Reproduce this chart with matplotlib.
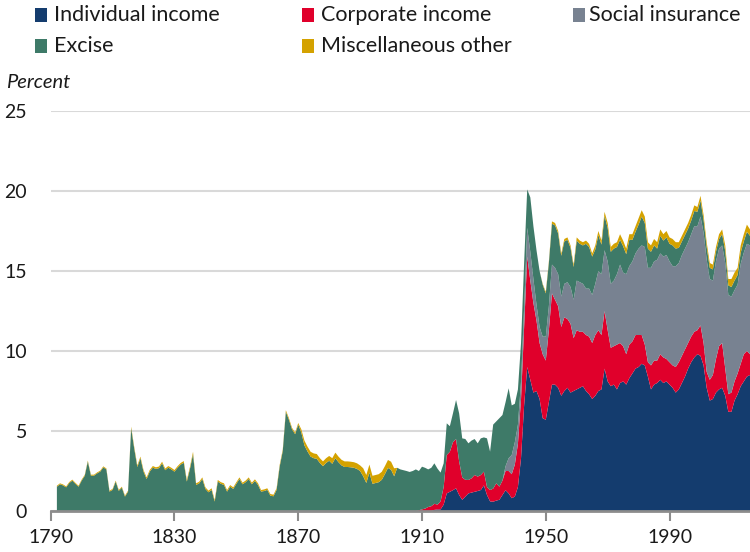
import matplotlib
matplotlib.use("Agg")
import matplotlib.pyplot as plt
from matplotlib.patches import Rectangle
import numpy as np

plt.rcParams['font.family'] = ['Lato', 'DejaVu Sans']

# federal revenue by source, percent of GDP
years = np.arange(1792, 2017)

excise = [
    1.52, 1.67, 1.6, 1.48, 1.75, 1.9, 1.7, 1.52, 1.9, 2.2,
    3.09, 2.21, 2.21, 2.35, 2.46, 2.73, 2.6, 1.21, 1.32, 1.84,
    1.26, 1.46, 0.9, 1.21, 5.17, 3.9, 2.75, 3.3, 2.46, 2.0,
    2.46, 2.71, 2.63, 2.68, 2.98, 2.55, 2.71, 2.6, 2.46, 2.7,
    2.9, 3.02, 1.84, 2.63, 3.55, 1.63, 1.73, 2.0, 1.38, 1.17,
    1.32, 0.59, 1.84, 1.7, 1.63, 1.21, 1.52, 1.38, 1.7, 2.0,
    1.67, 1.8, 2.0, 1.67, 1.88, 1.63, 1.21, 1.25, 1.32, 0.96,
    0.92, 1.32, 2.78, 3.75, 6.2, 5.7, 5.1, 4.8, 5.4, 4.9,
    4.1, 3.72, 3.4, 3.3, 3.26, 3.0, 2.8, 3.0, 3.14, 2.95,
    3.3, 3.05, 2.85, 2.75, 2.75, 2.73, 2.7, 2.63, 2.5, 2.17,
    1.75, 2.4, 1.7, 1.75, 1.8, 1.95, 2.3, 2.69, 2.58, 2.17,
    2.7, 2.6, 2.55, 2.5, 2.44, 2.5, 2.6, 2.45, 2.67, 2.55,
    2.35, 2.4, 2.53, 2.25, 1.8, 1.48, 1.98, 1.6, 1.8, 2.44,
    3.0, 2.44, 2.55, 2.29, 2.36, 2.25, 2.08, 2.29, 2.14, 3.04,
    2.4, 4.0, 3.87, 4.28, 4.1, 4.0, 4.37, 3.1, 2.4, 2.2,
    2.4, 2.8, 2.4, 3.4, 3.3, 3.4, 3.5, 3.25, 2.7, 2.7,
    2.55, 2.65, 2.55, 2.55, 2.65, 2.65, 2.45, 2.05, 2.5, 2.4,
    2.4, 2.8, 2.6, 2.4, 2.15, 2.25, 1.85, 2.15, 2.1, 2.0,
    2.0, 1.7, 1.55, 1.65, 1.25, 1.65, 1.35, 1.35, 1.5, 1.8,
    1.5, 1.2, 1.0, 1.0, 0.7, 1.1, 1.0, 1.1, 1.1, 1.3,
    1.1, 0.95, 0.85, 0.85, 0.85, 0.85, 0.95, 0.9, 1.0, 0.8,
    0.8, 0.7, 0.7, 0.6, 0.6, 0.7, 0.75, 0.6, 0.6, 0.6,
    0.6, 0.7, 0.7, 0.75, 0.6,
]

misc = [
    0.06, 0.06, 0.06, 0.06, 0.06, 0.06, 0.06, 0.06, 0.06, 0.06,
    0.06, 0.06, 0.06, 0.06, 0.06, 0.06, 0.06, 0.06, 0.06, 0.06,
    0.06, 0.06, 0.06, 0.06, 0.1, 0.1, 0.1, 0.1, 0.1, 0.1,
    0.1, 0.1, 0.1, 0.1, 0.1, 0.1, 0.1, 0.1, 0.1, 0.1,
    0.1, 0.1, 0.1, 0.12, 0.15, 0.1, 0.1, 0.1, 0.1, 0.1,
    0.1, 0.1, 0.1, 0.1, 0.1, 0.1, 0.1, 0.1, 0.1, 0.1,
    0.1, 0.1, 0.1, 0.1, 0.1, 0.1, 0.1, 0.1, 0.1, 0.1,
    0.1, 0.1, 0.1, 0.1, 0.1, 0.1, 0.1, 0.1, 0.1, 0.2,
    0.3, 0.3, 0.3, 0.3, 0.3, 0.3, 0.3, 0.3, 0.3, 0.35,
    0.35, 0.35, 0.35, 0.35, 0.35, 0.35, 0.35, 0.35, 0.35, 0.5,
    0.5, 0.5, 0.5, 0.5, 0.5, 0.5, 0.5, 0.5, 0.5, 0.5,
    0, 0, 0, 0, 0, 0, 0, 0, 0, 0,
    0, 0, 0, 0, 0, 0, 0, 0, 0, 0,
    0, 0, 0, 0, 0, 0, 0, 0, 0, 0,
    0, 0, 0, 0, 0, 0, 0, 0, 0, 0,
    0, 0, 0, 0, 0, 0, 0, 0.05, 0.1, 0.1,
    0.15, 0.15, 0.15, 0.15, 0.15, 0.15, 0.15, 0.15, 0.2, 0.2,
    0.2, 0.2, 0.2, 0.2, 0.25, 0.25, 0.25, 0.25, 0.3, 0.3,
    0.3, 0.3, 0.35, 0.35, 0.35, 0.35, 0.35, 0.35, 0.4, 0.4,
    0.4, 0.4, 0.4, 0.4, 0.4, 0.4, 0.4, 0.4, 0.4, 0.4,
    0.4, 0.35, 0.35, 0.35, 0.35, 0.35, 0.35, 0.3, 0.3, 0.3,
    0.3, 0.3, 0.3, 0.3, 0.3, 0.3, 0.35, 0.4, 0.5, 0.5,
    0.45, 0.45, 0.45, 0.45, 0.4,
]

individual_start = 1913
individual = [
    0.0, 0.07, 0.1, 0.1, 0.4, 1.1, 1.2, 1.3, 1.42, 1.0,
    0.7, 0.9, 1.1, 1.15, 1.2, 1.25, 1.31, 1.6, 1.0, 0.6,
    0.58, 0.65, 0.7, 1.0, 1.3, 1.1, 0.8, 0.9, 1.5, 3.3,
    6.6, 9.0, 8.2, 7.4, 7.5, 7.0, 5.8, 5.7, 6.8, 7.9,
    7.9, 7.7, 7.2, 7.5, 7.7, 7.4, 7.5, 7.6, 7.7, 7.8,
    7.5, 7.3, 7.0, 7.2, 7.5, 7.6, 8.9, 8.1, 7.8, 7.9,
    7.6, 8.0, 8.1, 7.9, 8.3, 8.6, 8.9, 9.0, 9.2, 9.1,
    8.4, 7.6, 7.9, 8.0, 8.2, 8.0, 8.1, 7.9, 7.7, 7.4,
    7.6, 8.0, 8.4, 8.9, 9.3, 9.6, 9.8, 9.7, 9.1, 7.7,
    6.9, 7.0, 7.4, 7.6, 7.7, 7.2, 6.2, 6.2, 6.9, 7.3,
    7.8, 8.1, 8.4, 8.5,
]

corporate_start = 1909
corporate = [
    0.05, 0.1, 0.15, 0.25, 0.3, 0.38, 0.3, 0.5, 1.1, 2.4,
    2.5, 3.0, 3.08, 2.1, 1.4, 1.05, 0.84, 0.89, 1.05, 0.9,
    0.94, 0.86, 0.5, 0.71, 0.82, 1.08, 0.82, 0.9, 1.2, 1.4,
    1.5, 2.0, 2.7, 3.7, 4.9, 6.9, 6.2, 5.6, 4.4, 3.5,
    4.0, 3.7, 4.5, 5.7, 5.3, 5.1, 4.3, 4.6, 4.3, 4.3,
    3.3, 3.7, 3.5, 3.4, 3.5, 3.6, 3.5, 3.8, 3.8, 3.4,
    3.6, 3.2, 2.4, 2.4, 2.8, 2.5, 2.2, 1.9, 2.1, 2.0,
    2.1, 2.0, 1.8, 1.3, 0.9, 1.5, 1.5, 1.4, 1.6, 1.6,
    1.4, 1.4, 1.4, 1.6, 1.7, 1.7, 1.7, 1.6, 1.6, 1.6,
    1.5, 1.9, 1.4, 1.0, 1.3, 1.5, 2.1, 2.7, 2.8, 1.7,
    1.1, 1.2, 1.2, 1.3, 1.4, 1.7, 1.6, 1.3,
]

social_start = 1937
social = [
    0.3, 0.8, 1.2, 1.4, 1.2, 1.1, 1.2, 1.8, 1.8, 1.5,
    1.0, 1.0, 1.1, 1.5, 1.5, 1.8, 2.0, 2.0, 1.9, 2.1,
    2.3, 2.3, 2.4, 3.1, 3.1, 3.0, 2.9, 3.0, 3.0, 3.2,
    3.7, 3.8, 3.8, 4.3, 4.0, 4.1, 4.4, 4.9, 4.6, 5.0,
    4.9, 5.0, 5.1, 5.4, 5.6, 6.1, 5.9, 6.1, 6.2, 6.3,
    6.3, 6.3, 6.5, 6.3, 6.2, 6.3, 6.2, 6.3, 6.3, 6.3,
    6.4, 6.6, 6.5, 6.8, 6.9, 7.0, 6.3, 5.9, 6.1, 6.1,
    6.1, 6.6, 6.2, 6.0, 5.7, 5.55, 6.25, 6.35, 6.7, 6.8,
]

labels = ['Individual income', 'Corporate income', 'Social insurance',
          'Excise', 'Miscellaneous other']
colors = ['#143c6e', '#e0002b', '#788291', '#3e7a68', '#d4a200']


def pad(values, start):
    # zeros before the series begins
    return np.concatenate([np.zeros(start - years[0]), np.array(values, dtype=float)])


layers = [pad(individual, individual_start), pad(corporate, corporate_start),
          pad(social, social_start), np.array(excise), np.array(misc)]

fig = plt.figure(figsize=(7.5, 5.52), dpi=100)
ax = fig.add_axes([50.7 / 750, 41 / 552, (750 - 50.7) / 750, 400 / 552])

ax.stackplot(years, *layers, colors=colors, linewidth=0, zorder=2)

ax.set_xlim(1790, 2016)
ax.set_ylim(0, 25)
ax.set_yticks([0, 5, 10, 15, 20, 25])
ax.set_xticks(np.arange(1790, 2000, 40))
ax.yaxis.grid(True, color='#d9d9d9', linewidth=1.5, zorder=0)
ax.set_axisbelow(True)

for s in ['top', 'right', 'left']:
    ax.spines[s].set_visible(False)
ax.spines['bottom'].set_color('#8c8c8c')
ax.spines['bottom'].set_linewidth(2)
ax.spines['bottom'].set_zorder(3)

ax.tick_params(axis='x', direction='out', length=7, width=1.5, color='#8c8c8c',
               labelsize=14, labelcolor='#1a1a1a', pad=6)
ax.tick_params(axis='y', length=0, labelsize=14, labelcolor='#1a1a1a', pad=17)

fig.text(6 / 750, 1 - 82 / 552, 'Percent', style='italic', fontsize=14.5,
         color='#1a1a1a', va='center', ha='left')

# legend, three columns
sq_x = [35, 302, 573]
txt_x = [54, 321, 589]
row_y = [15, 46]
for i, (lab, col) in enumerate(zip(labels, colors)):
    r, c = divmod(i, 3)
    yc = row_y[r]
    fig.patches.append(Rectangle((sq_x[c] / 750, 1 - (yc + 7) / 552), 12 / 750, 14 / 552,
                                 transform=fig.transFigure, facecolor=col, edgecolor='none'))
    fig.text(txt_x[c] / 750, 1 - yc / 552, lab, fontsize=15.5, color='#1a1a1a',
             va='center', ha='left')

fig.savefig('out.png', dpi=100)
